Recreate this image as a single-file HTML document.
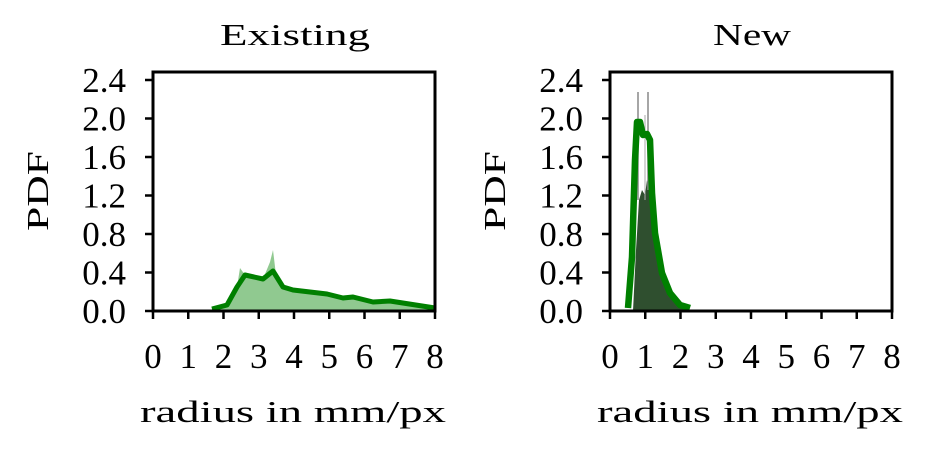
<!DOCTYPE html>
<html><head><style>body{margin:0;background:#fff}</style></head><body>
<svg width="926" height="454" xmlns="http://www.w3.org/2000/svg" font-family="Liberation Serif, DejaVu Serif, serif" font-size="31" fill="#000">
<rect width="926" height="454" fill="#fff"/>
<!-- Left -->
<path d="M212,310 L227,305 L237,287 L240,268 L245,275 L263,279 L270,262 L273,250 L276,275 L283,287 L293,290 L327,294 L343,298 L353,297 L373,302 L390,301 L435,308 L435,311 L212,311Z" fill="#90c990"/>
<polyline points="212,309 227,305 237,287 245,275 263,279 273,271 283,287 293,290 327,294 343,298 353,297 373,302 390,301 435,308" fill="none" stroke="#008000" stroke-width="5" stroke-linejoin="round"/>
<!-- Right -->
<path d="M633,311 L636,250 L639,200 L642,190 L645,195 L647,180 L652,200 L656,240 L662,275 L670,293 L680,305 L685,311Z" fill="#2f4f2f"/>
<line x1="638" y1="92" x2="638" y2="200" stroke="#888" stroke-width="1.5"/>
<line x1="648" y1="92" x2="648" y2="190" stroke="#888" stroke-width="1.5"/>
<line x1="645" y1="115" x2="645" y2="200" stroke="#aaa" stroke-width="1"/>
<polyline points="628,308 632,257 635,160 637,122 640,122 643,135 647,134 650,140 652,193 655,233 662,273 670,293 680,305 690,308" fill="none" stroke="#008000" stroke-width="6.5" stroke-linejoin="round"/>
<g stroke="#000" stroke-width="3" fill="none">
<rect x="153" y="72" width="282" height="239"/>
<rect x="610" y="72" width="282" height="239"/>
</g>
<g stroke="#000" stroke-width="2.5">
<path d="M145,311h8M145,272.5h8M145,234h8M145,195.5h8M145,157h8M145,118.5h8M145,80h8"/>
<path d="M602,311h8M602,272.5h8M602,234h8M602,195.5h8M602,157h8M602,118.5h8M602,80h8"/>
<path d="M153,311v8M188.25,311v8M223.5,311v8M258.75,311v8M294,311v8M329.25,311v8M364.5,311v8M399.75,311v8M435,311v8"/>
<path d="M610,311v8M645.25,311v8M680.5,311v8M715.75,311v8M751,311v8M786.25,311v8M821.5,311v8M856.75,311v8M892,311v8"/>
</g>
<g text-anchor="end" font-size="35">
<text x="126" y="323">0.0</text><text x="126" y="284.5">0.4</text><text x="126" y="246">0.8</text><text x="126" y="207.5">1.2</text><text x="126" y="169">1.6</text><text x="126" y="130.5">2.0</text><text x="126" y="92">2.4</text>
<text x="583" y="323">0.0</text><text x="583" y="284.5">0.4</text><text x="583" y="246">0.8</text><text x="583" y="207.5">1.2</text><text x="583" y="169">1.6</text><text x="583" y="130.5">2.0</text><text x="583" y="92">2.4</text>
</g>
<g text-anchor="middle" font-size="35">
<text x="153" y="368">0</text><text x="188.25" y="368">1</text><text x="223.5" y="368">2</text><text x="258.75" y="368">3</text><text x="294" y="368">4</text><text x="329.25" y="368">5</text><text x="364.5" y="368">6</text><text x="399.75" y="368">7</text><text x="435" y="368">8</text>
<text x="610" y="368">0</text><text x="645.25" y="368">1</text><text x="680.5" y="368">2</text><text x="715.75" y="368">3</text><text x="751" y="368">4</text><text x="786.25" y="368">5</text><text x="821.5" y="368">6</text><text x="856.75" y="368">7</text><text x="892" y="368">8</text>
</g>
<text x="140" y="422" textLength="306" lengthAdjust="spacingAndGlyphs">radius in mm/px</text>
<text x="597" y="422" textLength="306" lengthAdjust="spacingAndGlyphs">radius in mm/px</text>
<text x="220" y="45" textLength="150" lengthAdjust="spacingAndGlyphs">Existing</text>
<text x="713" y="45" textLength="78" lengthAdjust="spacingAndGlyphs">New</text>
<text transform="translate(48,231) rotate(-90)" textLength="80" lengthAdjust="spacingAndGlyphs">PDF</text>
<text transform="translate(505,231) rotate(-90)" textLength="80" lengthAdjust="spacingAndGlyphs">PDF</text>
</svg>
</body></html>
